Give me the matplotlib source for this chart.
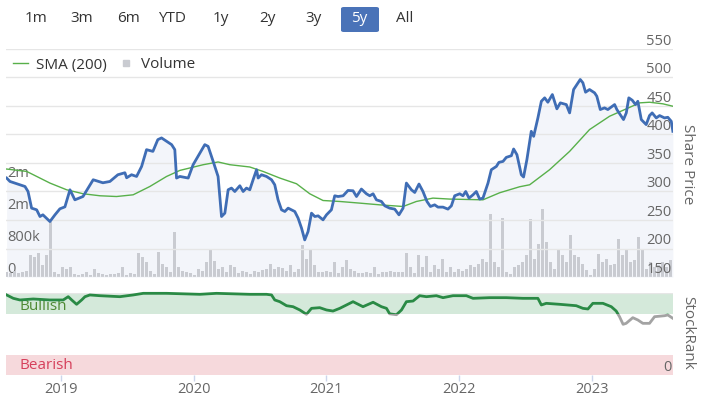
import numpy as np
import pandas as pd
import matplotlib
matplotlib.use("Agg")
import matplotlib.pyplot as plt
from matplotlib.lines import Line2D
from matplotlib.patches import FancyBboxPatch, Rectangle

plt.rcParams['font.family'] = ['Open Sans', 'DejaVu Sans']

# ---------------- data ----------------
price_year = [2018.591, 2018.616, 2018.691, 2018.729, 2018.752, 2018.779, 2018.817, 2018.842, 2018.864, 2018.917,
              2018.955, 2018.992, 2019.030, 2019.068, 2019.105, 2019.166, 2019.243, 2019.316, 2019.369, 2019.429,
              2019.482, 2019.495, 2019.532, 2019.570, 2019.608, 2019.645, 2019.693, 2019.730, 2019.758, 2019.796,
              2019.834, 2019.858, 2019.871, 2019.896, 2019.959, 2019.996, 2020.047, 2020.084, 2020.109, 2020.147,
              2020.184, 2020.210, 2020.235, 2020.260, 2020.285, 2020.310, 2020.348, 2020.373, 2020.398, 2020.423,
              2020.448, 2020.474, 2020.486, 2020.511, 2020.549, 2020.587, 2020.611, 2020.636, 2020.662, 2020.687,
              2020.712, 2020.737, 2020.762, 2020.787, 2020.813, 2020.837, 2020.862, 2020.888, 2020.913, 2020.938,
              2020.975, 2021.001, 2021.038, 2021.063, 2021.088, 2021.126, 2021.163, 2021.201, 2021.227, 2021.264,
              2021.302, 2021.327, 2021.352, 2021.377, 2021.415, 2021.440, 2021.477, 2021.515, 2021.547, 2021.578,
              2021.603, 2021.641, 2021.666, 2021.698, 2021.728, 2021.758, 2021.784, 2021.816, 2021.841, 2021.879,
              2021.916, 2021.942, 2021.967, 2022.005, 2022.029, 2022.050, 2022.075, 2022.105, 2022.130, 2022.155,
              2022.180, 2022.218, 2022.243, 2022.281, 2022.300, 2022.331, 2022.356, 2022.394, 2022.411, 2022.436,
              2022.469, 2022.486, 2022.511, 2022.544, 2022.562, 2022.594, 2022.620, 2022.645, 2022.669, 2022.703,
              2022.737, 2022.763, 2022.808, 2022.833, 2022.863, 2022.888, 2022.913, 2022.933, 2022.953, 2022.983,
              2023.021, 2023.038, 2023.064, 2023.096, 2023.121, 2023.172, 2023.189, 2023.239, 2023.260, 2023.279,
              2023.305, 2023.330, 2023.347, 2023.373, 2023.410, 2023.435, 2023.455, 2023.486, 2023.511, 2023.548,
              2023.573, 2023.599, 2023.611]
price = [323.6, 317.6, 311.8, 308.8, 300.0, 270.8, 267.9, 256.1, 259.1, 247.3,
         259.1, 269.6, 273.1, 303.0, 285.4, 291.2, 320.6, 315.3, 317.6, 329.4,
         332.9, 324.1, 329.4, 326.4, 344.0, 373.4, 370.4, 391.0, 394.0, 388.0,
         382.2, 373.4, 323.6, 326.4, 323.6, 347.0, 367.6, 382.2, 379.2, 352.8,
         326.4, 256.1, 262.0, 303.0, 306.0, 300.0, 310.1, 300.0, 306.0, 303.0,
         320.6, 338.2, 323.6, 329.4, 326.4, 320.6, 311.8, 285.4, 267.9, 264.9,
         270.8, 267.9, 264.9, 253.3, 235.7, 215.1, 229.7, 262.0, 256.1, 257.3,
         250.3, 259.1, 267.9, 292.5, 291.2, 292.5, 301.8, 301.3, 291.2, 304.3,
         296.0, 292.5, 296.0, 285.4, 282.5, 274.9, 270.8, 269.1, 259.1, 270.8,
         314.8, 303.0, 298.3, 313.1, 300.0, 282.5, 273.7, 276.6, 272.6, 272.6,
         269.1, 274.9, 292.5, 296.0, 292.5, 300.0, 288.4, 294.2, 300.0, 286.7,
         288.4, 314.8, 338.2, 344.0, 351.1, 352.8, 359.9, 362.8, 374.6, 364.6,
         329.4, 325.4, 355.8, 405.6, 396.8, 429.1, 458.3, 464.3, 456.6, 470.1,
         445.0, 455.5, 452.5, 437.9, 478.9, 487.7, 496.5, 490.7, 474.2, 478.9,
         473.1, 467.1, 443.8, 446.7, 443.8, 452.5, 443.8, 426.2, 437.9, 464.3,
         460.1, 452.5, 458.3, 426.2, 417.4, 433.2, 437.9, 429.1, 433.2, 429.1,
         430.2, 423.2, 405.6]

sma_year = [2018.591, 2018.742, 2018.917, 2019.043, 2019.168, 2019.294, 2019.419, 2019.544, 2019.670, 2019.796,
            2019.896, 2020.072, 2020.184, 2020.273, 2020.423, 2020.523, 2020.649, 2020.775, 2020.875, 2020.975,
            2021.101, 2021.252, 2021.402, 2021.578, 2021.678, 2021.803, 2021.929, 2022.180, 2022.306, 2022.456,
            2022.532, 2022.682, 2022.833, 2022.983, 2023.134, 2023.260, 2023.361, 2023.435, 2023.536, 2023.611]
sma = [339.4, 335.2, 314.8, 303.0, 296.0, 292.5, 291.2, 294.2, 308.8, 326.4,
       337.0, 347.0, 351.8, 347.0, 343.0, 335.2, 323.6, 313.6, 296.0, 284.2,
       282.5, 279.6, 276.6, 273.7, 282.5, 288.4, 286.7, 285.4, 297.8, 308.3,
       311.8, 338.2, 370.4, 408.6, 432.0, 445.0, 455.5, 456.6, 453.8, 449.6]

# volume bars: one bar every 11 days from 5 Aug 2018 (values in thousands of shares)
volume_start = "2018-08-05"
volume_step_days = 11
volume_k = [125, 100, 150, 100, 125, 150, 550, 500, 600, 300, 550, 1375, 125, 75, 250, 200, 250, 75, 50, 75,
            125, 50, 200, 100, 75, 50, 75, 75, 100, 250, 50, 100, 75, 600, 500, 375, 150, 75, 625, 325,
            250, 125, 1125, 250, 150, 125, 100, 50, 200, 150, 375, 700, 400, 200, 250, 125, 300, 250, 100, 150,
            125, 75, 150, 125, 175, 200, 325, 200, 250, 225, 150, 300, 125, 200, 800, 450, 700, 300, 125, 125,
            150, 125, 375, 100, 250, 425, 200, 150, 100, 100, 125, 100, 250, 75, 125, 125, 150, 125, 125, 125,
            600, 250, 100, 550, 250, 525, 125, 300, 200, 450, 125, 250, 125, 200, 150, 200, 300, 250, 325, 450,
            375, 1575, 375, 250, 1475, 125, 75, 250, 300, 375, 550, 1450, 450, 825, 1700, 875, 375, 200, 700, 550,
            375, 1050, 550, 500, 325, 175, 50, 200, 575, 375, 450, 300, 325, 950, 550, 675, 375, 425, 1000, 700,
            200, 375, 250, 300, 375, 250, 425]

rank_year = [2018.591, 2018.641, 2018.691, 2018.791, 2018.917, 2019.017, 2019.055, 2019.081, 2019.118, 2019.156,
             2019.181, 2019.218, 2019.294, 2019.444, 2019.544, 2019.620, 2019.796, 2020.047, 2020.172, 2020.423,
             2020.549, 2020.587, 2020.611, 2020.649, 2020.700, 2020.749, 2020.800, 2020.850, 2020.888, 2020.950,
             2021.001, 2021.050, 2021.101, 2021.201, 2021.276, 2021.352, 2021.415, 2021.453, 2021.477, 2021.528,
             2021.566, 2021.603, 2021.653, 2021.703, 2021.754, 2021.829, 2021.879, 2021.954, 2022.055, 2022.105,
             2022.230, 2022.356, 2022.481, 2022.594, 2022.620, 2022.657, 2022.758, 2022.883, 2022.933, 2022.971,
             2023.008, 2023.084, 2023.147, 2023.184, 2023.209, 2023.236, 2023.259, 2023.309, 2023.347, 2023.385,
             2023.435, 2023.473, 2023.548, 2023.573, 2023.611]
stock_rank = [97.6, 93.5, 91.5, 92.7, 91.5, 91.5, 95.5, 91.5, 86.2, 91.5,
              95.5, 97.6, 96.7, 95.5, 97.6, 99.6, 99.6, 98.4, 99.6, 98.4,
              98.4, 97.6, 91.5, 89.4, 84.5, 83.3, 79.3, 74.0, 81.3, 82.1,
              79.3, 78.0, 81.3, 89.4, 83.3, 88.7, 83.3, 81.3, 74.6, 73.5,
              79.3, 89.4, 90.2, 96.7, 95.5, 96.7, 94.3, 96.7, 96.7, 93.5,
              94.3, 94.3, 93.5, 93.5, 85.4, 87.4, 86.2, 84.5, 81.3, 80.5,
              87.4, 87.4, 83.3, 78.0, 71.1, 61.8, 63.0, 69.9, 67.1, 63.0,
              63.0, 71.1, 72.3, 73.2, 69.1]

price_ticks = [150, 200, 250, 300, 350, 400, 450, 500, 550]
volume_ticks = [0, 800000, 1600000, 2400000]
volume_tick_labels = ["0", "800k", "2m", "2m"]
year_ticks = [2019, 2020, 2021, 2022, 2023]
year_labels = ["2019", "2020", "2021", "2022", "2023"]
bullish_range = (75, 100)
bearish_range = (0, 25)
buttons = ["1m", "3m", "6m", "YTD", "1y", "2y", "3y", "5y", "All"]
selected_button = "5y"

# ---------------- styling ----------------
W, H = 705, 397
C_PRICE = "#3f6db5"
C_SMA = "#58b04a"
C_VOL = "#c9cbd1"
C_FILL = "#f3f5fa"
C_GRID = "#e6e6e6"
C_TICK = "#666666"
C_TEXT = "#333333"
C_RANK = "#2a8a45"
C_RANK_LOW = "#a3a3a3"

XMIN, XMAX = 2018.586, 2023.612

fig = plt.figure(figsize=(W / 100, H / 100), dpi=100)


def rect(x0, y0, x1, y1):
    return [x0 / W, 1 - y1 / H, (x1 - x0) / W, (y1 - y0) / H]


# main panel: volume axis (behind) + price axis (twin, on top)
ax_v = fig.add_axes(rect(6, 49, 673, 277))
ax_p = ax_v.twinx()

vol_dates = pd.date_range(volume_start, periods=len(volume_k), freq=f"{volume_step_days}D")
vol_year = vol_dates.year + (vol_dates.dayofyear - 1) / 365.25
vol = np.array(volume_k) * 1000.0

# area fill under the price line, drawn on the back axes in price coordinates
ax_v.fill_between(price_year, price, 150, color=C_FILL, lw=0, zorder=0,
                  transform=ax_p.transData)
ax_v.bar(vol_year, vol, width=0.022, color=C_VOL, lw=0, zorder=2)
ax_v.set_ylim(0, 5.7e6)
ax_v.set_xlim(XMIN, XMAX)
ax_v.set_yticks(volume_ticks)
ax_v.set_yticklabels(volume_tick_labels)
ax_v.tick_params(axis="y", length=0, pad=-1, labelsize=10.5, labelcolor=C_TICK)
for lab in ax_v.get_yticklabels():
    lab.set_ha("left")
    lab.set_va("bottom")
ax_v.tick_params(axis="x", bottom=False, labelbottom=False)
for s in ax_v.spines.values():
    s.set_visible(False)

ax_p.plot(sma_year, sma, color=C_SMA, lw=1.0, zorder=3)
ax_p.plot(price_year, price, color=C_PRICE, lw=2.0, zorder=4, solid_joinstyle="round")
ax_p.set_ylim(150, 550)
ax_p.set_xlim(XMIN, XMAX)
ax_p.set_yticks(price_ticks)
ax_p.grid(axis="y", color=C_GRID, lw=1.0, zorder=0)
ax_p.set_axisbelow(True)
ax_p.tick_params(axis="y", length=0, pad=-1, labelsize=10.5, labelcolor=C_TICK)
for lab in ax_p.get_yticklabels():
    lab.set_ha("right")
    lab.set_va("bottom")
ax_p.tick_params(axis="x", bottom=False, labelbottom=False)
for s in ax_p.spines.values():
    s.set_visible(False)
fig.text(688 / W, 1 - 164 / H, "Share Price", rotation=270, fontsize=11, color=C_TICK,
         ha="center", va="center")

# legend
handles = [Line2D([], [], color=C_SMA, lw=1.0),
           Line2D([], [], marker="s", ls="none", color=C_VOL, markersize=5)]
leg = fig.legend(handles, ["SMA (200)", "Volume"], loc="center left",
                 bbox_to_anchor=(13 / W, 1 - 65 / H), ncol=2, frameon=False,
                 fontsize=11, handlelength=1.0, handletextpad=0.5, columnspacing=0.75,
                 borderpad=0, borderaxespad=0)
for t in leg.get_texts():
    t.set_color(C_TEXT)

# StockRank panel
ax_r = fig.add_axes(rect(6, 293, 673, 375))
ax_r.set_xlim(XMIN, XMAX)
ax_r.set_ylim(0, 100)
ax_r.axhspan(*bullish_range, color="#d4e9da", lw=0, zorder=0)
ax_r.axhspan(*bearish_range, color="#f6d9dc", lw=0, zorder=0)
ax_r.axhline(100, color=C_GRID, lw=1, zorder=1)
ax_r.text(2018.685, 84, "Bullish", fontsize=11, color="#4f8a34", va="center", ha="left", zorder=2)
ax_r.text(2018.685, 11, "Bearish", fontsize=11, color="#d6405c", va="center", ha="left", zorder=2)

hi_clip = Rectangle((XMIN, bullish_range[0]), XMAX - XMIN, 200, transform=ax_r.transData)
lo_clip = Rectangle((XMIN, -100), XMAX - XMIN, 100 + bullish_range[0], transform=ax_r.transData)
l_hi, = ax_r.plot(rank_year, stock_rank, color=C_RANK, lw=2.0, zorder=3)
l_hi.set_clip_path(hi_clip)
l_lo, = ax_r.plot(rank_year, stock_rank, color=C_RANK_LOW, lw=2.0, zorder=3)
l_lo.set_clip_path(lo_clip)

ax_r.set_xticks(year_ticks)
ax_r.set_xticklabels(year_labels)
ax_r.tick_params(axis="x", length=4, width=1, color="#ccd6eb", pad=1,
                 labelsize=10.5, labelcolor=C_TICK)
ax_r.yaxis.tick_right()
ax_r.set_yticks([0])
ax_r.set_yticklabels(["0"])
ax_r.tick_params(axis="y", length=0, pad=-1, labelsize=10.5, labelcolor=C_TICK)
for lab in ax_r.get_yticklabels():
    lab.set_ha("right")
    lab.set_va("bottom")
fig.text(688 / W, 1 - 333 / H, "StockRank", rotation=270, fontsize=11, color=C_TICK,
         ha="center", va="center")
for s in ax_r.spines.values():
    s.set_visible(False)

# range selector buttons
btn_x = [36, 82, 128, 172, 221, 267, 313, 359, 405]
for name, bx in zip(buttons, btn_x):
    if name == selected_button:
        fig.patches.append(FancyBboxPatch((341 / W, 1 - 32 / H), 38 / W, 25 / H,
                                          boxstyle="round,pad=0,rounding_size=0.004",
                                          transform=fig.transFigure, color="#4a73b8", lw=0))
        fig.text(bx / W, 1 - 19 / H, name, ha="center", va="center", fontsize=11, color="white")
    else:
        fig.text(bx / W, 1 - 19 / H, name, ha="center", va="center", fontsize=11, color=C_TEXT)

fig.savefig("out.png", dpi=100)
